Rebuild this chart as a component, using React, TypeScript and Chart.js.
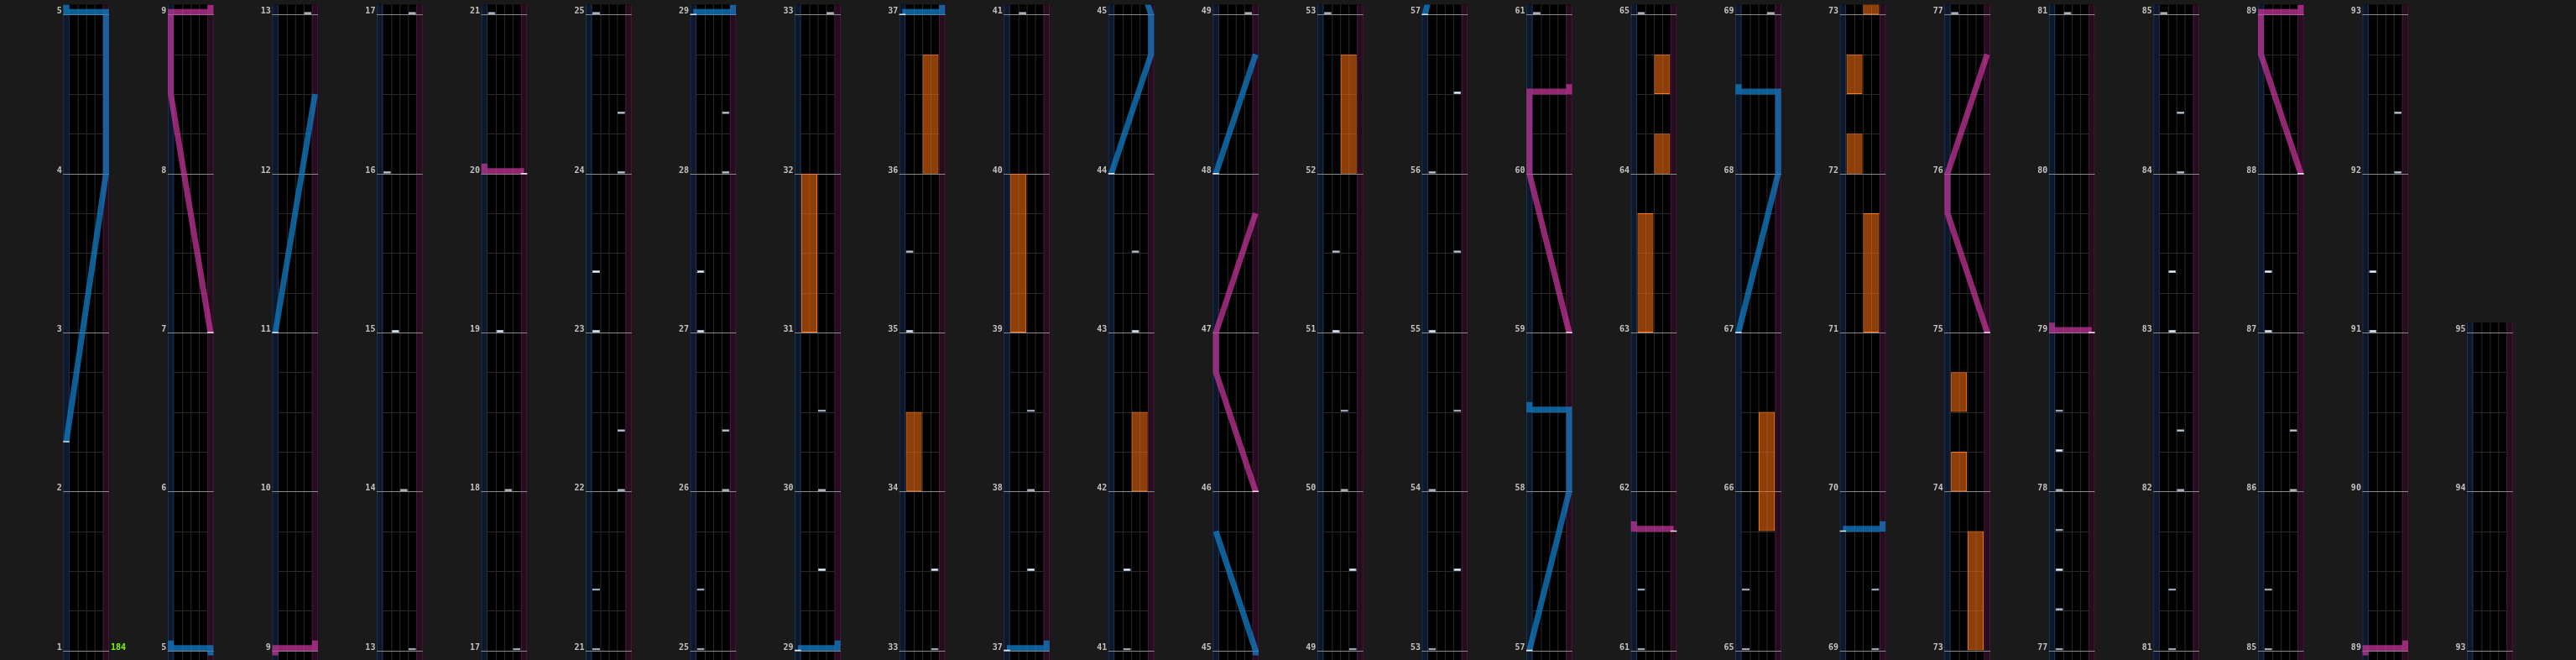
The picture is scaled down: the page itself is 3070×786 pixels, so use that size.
import React, { useEffect, useRef } from 'react';
import Chart from 'chart.js/auto';

// chart content, times in measures (bars). Lane positions for knobs: 0 = left, 1 = right.
const chartEnd = 95;
const measuresPerColumn = 4;
const bpmMarks = [{ measure: 1, bpm: 184 }];

// BT chips: [lane 0-3 (A-D), measure]
const btChips: [number, number][] = [
  [3, 13], [2, 14], [1, 15], [0, 16], [3, 17], [2, 18], [1, 19],
  [0, 21], [0, 21.375], [3, 22], [3, 22.375], [0, 23], [0, 23.375], [3, 24], [3, 24.375],
  [0, 25], [0, 25.375], [3, 26], [3, 26.375], [0, 27], [0, 27.375], [3, 28], [3, 28.375],
  [2, 29.5], [2, 30], [2, 30.5], [3, 33], [3, 33.5], [0, 35], [0, 35.5],
  [2, 37.5], [2, 38], [2, 38.5], [1, 41], [1, 41.5], [2, 43], [2, 43.5],
  [3, 49], [3, 49.5], [2, 50], [2, 50.5], [1, 51], [1, 51.5],
  [0, 53], [3, 53.5], [0, 54], [3, 54.5], [0, 55], [3, 55.5], [0, 56], [3, 56.5],
  [0, 61], [0, 61.375], [0, 65], [0, 65.375], [3, 69], [3, 69.375],
  [0, 77], [0, 77.25], [0, 77.5], [0, 77.75], [0, 78], [0, 78.25], [0, 78.5],
  [1, 81], [1, 81.375], [2, 82], [2, 82.375], [1, 83], [1, 83.375], [2, 84], [2, 84.375],
  [0, 85], [0, 85.375], [3, 86], [3, 86.375], [0, 87], [0, 87.375],
  [0, 91], [0, 91.375], [3, 92], [3, 92.375],
];

// FX holds: [side 0 = L / 1 = R, start, end]
const fxHolds: [number, number, number][] = [
  [0, 31, 32], [0, 34, 34.5], [1, 36, 36.75], [0, 39, 40], [1, 42, 42.5], [1, 52, 52.75],
  [0, 63, 63.75], [1, 64, 64.25], [1, 64.5, 64.75], [1, 65.75, 66.5], [1, 71, 71.75],
  [0, 72, 72.25], [0, 72.5, 72.75], [1, 73, 73.75], [0, 74, 74.25], [0, 74.5, 74.75],
];

// knob lasers: [measure, position]; two points on the same measure = slam
const leftLasers: [number, number][][] = [
  [[2.3125, 0], [4, 1], [5, 1], [5, 0]],
  [[11, 0], [12.5, 1]],
  [[29, 0], [29, 1]],
  [[37, 0], [37, 1]],
  [[44, 0], [44.75, 1], [45, 1], [45.75, 0]],
  [[48, 0], [48.75, 1]],
  [[57, 0], [58, 1], [58.5, 1], [58.5, 0]],
  [[67, 0], [68, 1], [68.5, 1], [68.5, 0]],
  [[69.75, 0], [69.75, 1]],
];
const rightLasers: [number, number][][] = [
  [[7, 1], [8.5, 0], [9, 0], [9, 1]],
  [[20, 1], [20, 0]],
  [[46, 1], [46.75, 0], [47, 0], [47.75, 1]],
  [[59, 1], [60, 0], [60.5, 0], [60.5, 1]],
  [[61.75, 1], [61.75, 0]],
  [[75, 1], [75.75, 0], [76, 0], [76.75, 1]],
  [[79, 1], [79, 0]],
  [[88, 1], [88.75, 0], [89, 0], [89, 1]],
];

// layout (pixels)
const WIDTH = 3070;
const HEIGHT = 786;
const COL_PITCH = 125;
const LANE_OFFSET = 70;
const LANE_WIDTH = 55;
const LASER_LANE = 7.5;
const BT_LANE = 10;
const MEASURE_PX = 192;
const BOTTOM_PX = 6;

const columnCount = Math.ceil((chartEnd - 1) / measuresPerColumn);
const colBase = (c: number) => 1 + c * measuresPerColumn;
const laneX = (c: number, px: number) => c + (LANE_OFFSET + px) / COL_PITCH;
const laserX = (c: number, pos: number) => laneX(c, LASER_LANE / 2 + pos * (LANE_WIDTH - LASER_LANE));
const btX = (c: number, lane: number) => laneX(c, LASER_LANE + (lane + 0.5) * BT_LANE);
const fxX = (c: number, side: number) => laneX(c, LASER_LANE + (2 * side + 1) * BT_LANE);

const SLAM_SHIFT = 3 / MEASURE_PX;
const TAIL = 12 / MEASURE_PX;
const CHIP_H = 3 / MEASURE_PX;
const LANE_OVERHANG = 1 / 16;

const visible = (t0: number, t1: number, base: number) =>
  t1 >= base - 0.05 && t0 <= base + measuresPerColumn + 0.07;

function laserData(lasers: [number, number][][]) {
  const line: { x: number; y: number | null }[] = [];
  const starts: { x: number; y: number }[] = [];
  for (let c = 0; c < columnCount; c++) {
    const base = colBase(c);
    for (const laser of lasers) {
      const n = laser.length;
      if (!visible(laser[0][0], laser[n - 1][0] + TAIL, base)) continue;
      laser.forEach(([t, p], i) => {
        const slam = (i > 0 && laser[i - 1][0] === t) || (i < n - 1 && laser[i + 1][0] === t);
        line.push({ x: laserX(c, p), y: t - base + (slam ? SLAM_SHIFT : 0) });
      });
      if (n > 1 && laser[n - 1][0] === laser[n - 2][0]) {
        line.push({ x: laserX(c, laser[n - 1][1]), y: laser[n - 1][0] - base + TAIL });
      }
      line.push({ x: laserX(c, 0), y: null });
      starts.push({ x: laserX(c, laser[0][1]), y: laser[0][0] - base });
    }
  }
  return { line, starts };
}

function chipData() {
  const out: { x: number; y: [number, number] }[] = [];
  for (let c = 0; c < columnCount; c++) {
    const base = colBase(c);
    for (const [lane, t] of btChips) {
      if (visible(t, t, base)) out.push({ x: btX(c, lane), y: [t - base, t - base + CHIP_H] });
    }
  }
  return out;
}

function fxData() {
  const out: { x: number; y: [number, number] }[] = [];
  for (let c = 0; c < columnCount; c++) {
    const base = colBase(c);
    for (const [side, s, e] of fxHolds) {
      if (visible(s, e, base)) out.push({ x: fxX(c, side), y: [s - base, e - base] });
    }
  }
  return out;
}

const lanePlugin = {
  id: 'lanes',
  beforeDraw(chart: any) {
    const { ctx } = chart;
    ctx.save();
    ctx.fillStyle = '#1a1a1a';
    ctx.fillRect(0, 0, chart.width, chart.height);
    ctx.restore();
  },
  beforeDatasetsDraw(chart: any) {
    const { ctx, scales: { x, y } } = chart;
    ctx.save();
    ctx.font = 'bold 10px "DejaVu Sans Mono", monospace';
    ctx.textBaseline = 'alphabetic';
    for (let c = 0; c < columnCount; c++) {
      const base = colBase(c);
      const last = Math.min(base + measuresPerColumn, chartEnd);
      const top = y.getPixelForValue(last - base + LANE_OVERHANG);
      const bottom = y.getPixelForValue(-LANE_OVERHANG);
      const px = (p: number) => x.getPixelForValue(laneX(c, p));
      const h = bottom - top;

      ctx.fillStyle = '#000000';
      ctx.fillRect(px(0), top, px(LANE_WIDTH) - px(0), h);

      // knob lanes
      ctx.fillStyle = '#0d182c';
      ctx.fillRect(px(0), top, px(LASER_LANE) - px(0), h);
      ctx.fillStyle = '#250c1f';
      ctx.fillRect(px(LANE_WIDTH - LASER_LANE), top, px(LANE_WIDTH) - px(LANE_WIDTH - LASER_LANE), h);
      ctx.fillStyle = '#1f3550';
      ctx.fillRect(px(0), top, 1, h);
      ctx.fillRect(px(LASER_LANE) - 1, top, 1, h);
      ctx.fillStyle = '#481a3b';
      ctx.fillRect(px(LANE_WIDTH - LASER_LANE), top, 1, h);
      ctx.fillRect(px(LANE_WIDTH) - 1, top, 1, h);

      // BT dividers
      ctx.fillStyle = '#2a2a2a';
      for (let i = 1; i < 4; i++) ctx.fillRect(px(LASER_LANE + i * BT_LANE), top, 1, h);

      // beat lines
      for (let m = base; m < last; m++) {
        for (let b = 1; b < 4; b++) {
          const py = Math.round(y.getPixelForValue(m - base + b / 4));
          ctx.fillRect(px(LASER_LANE), py, px(LANE_WIDTH - LASER_LANE) - px(LASER_LANE), 1);
        }
      }

      // measure lines and numbers
      for (let m = base; m <= last; m++) {
        const py = Math.round(y.getPixelForValue(m - base));
        ctx.fillStyle = '#8a8a8a';
        ctx.fillRect(px(0), py, px(LANE_WIDTH) - px(0), 1);
        ctx.fillStyle = '#c2c2c2';
        ctx.textAlign = 'right';
        ctx.fillText(String(m), px(0) - 1.5, py - 1);
        for (const mark of bpmMarks) {
          if (mark.measure !== m) continue;
          ctx.fillStyle = '#7cfc00';
          ctx.textAlign = 'left';
          ctx.fillText(String(mark.bpm), px(LANE_WIDTH) + 2, py - 1);
        }
      }
    }
    ctx.restore();
  },
};

export default function App() {
  const canvasRef = useRef<HTMLCanvasElement>(null);
  const chartRef = useRef<Chart | null>(null);

  useEffect(() => {
    document.body.style.margin = '0';
    document.body.style.background = '#1a1a1a';
    if (!canvasRef.current) return;
    if (chartRef.current) chartRef.current.destroy();

    const left = laserData(leftLasers);
    const right = laserData(rightLasers);
    const laserLine = (data: any[], color: string) => ({
      type: 'line' as const,
      data,
      borderColor: color,
      borderWidth: 7,
      borderJoinStyle: 'miter' as const,
      borderCapStyle: 'butt' as const,
      pointRadius: 0,
      showLine: true,
      spanGaps: false,
      tension: 0,
      order: 2,
    });
    const startMarks = (data: any[], color: string) => ({
      type: 'scatter' as const,
      data,
      pointStyle: 'line' as const,
      pointRadius: 3.75,
      pointBorderWidth: 1.5,
      pointBorderColor: color,
      showLine: false,
      order: 1,
    });

    chartRef.current = new Chart(canvasRef.current, {
      type: 'scatter',
      data: {
        datasets: [
          startMarks(left.starts, '#dde8f5'),
          startMarks(right.starts, '#f5dded'),
          laserLine(left.line, 'rgba(18, 130, 205, 0.72)'),
          laserLine(right.line, 'rgba(205, 55, 160, 0.7)'),
          {
            type: 'bar',
            data: chipData(),
            backgroundColor: '#f2f5f9',
            borderColor: '#9db2ca',
            borderWidth: 1,
            borderSkipped: false,
            barThickness: 9,
            grouped: false,
            inflateAmount: 0,
            order: 3,
          } as any,
          {
            type: 'bar',
            data: fxData(),
            backgroundColor: 'rgba(235, 105, 15, 0.6)',
            borderColor: '#ff7a1a',
            borderWidth: 1,
            borderSkipped: false,
            barThickness: 19,
            grouped: false,
            inflateAmount: 0,
            order: 4,
          } as any,
        ],
      },
      options: {
        responsive: false,
        animation: false,
        events: [],
        layout: { padding: 0 },
        plugins: { legend: { display: false }, tooltip: { enabled: false } },
        scales: {
          x: {
            type: 'linear',
            display: false,
            offset: false,
            grid: { offset: false },
            min: 0,
            max: WIDTH / COL_PITCH,
          },
          y: {
            type: 'linear',
            display: false,
            offset: false,
            beginAtZero: false,
            min: -BOTTOM_PX / MEASURE_PX,
            max: (HEIGHT - BOTTOM_PX) / MEASURE_PX,
          },
        },
      },
      plugins: [lanePlugin],
    });

    return () => { if (chartRef.current) chartRef.current.destroy(); };
  }, []);

  return (
    <div style={{ width: WIDTH, height: HEIGHT, background: '#1a1a1a' }}>
      <canvas ref={canvasRef} width={WIDTH} height={HEIGHT} style={{ display: 'block' }} />
    </div>
  );
}
